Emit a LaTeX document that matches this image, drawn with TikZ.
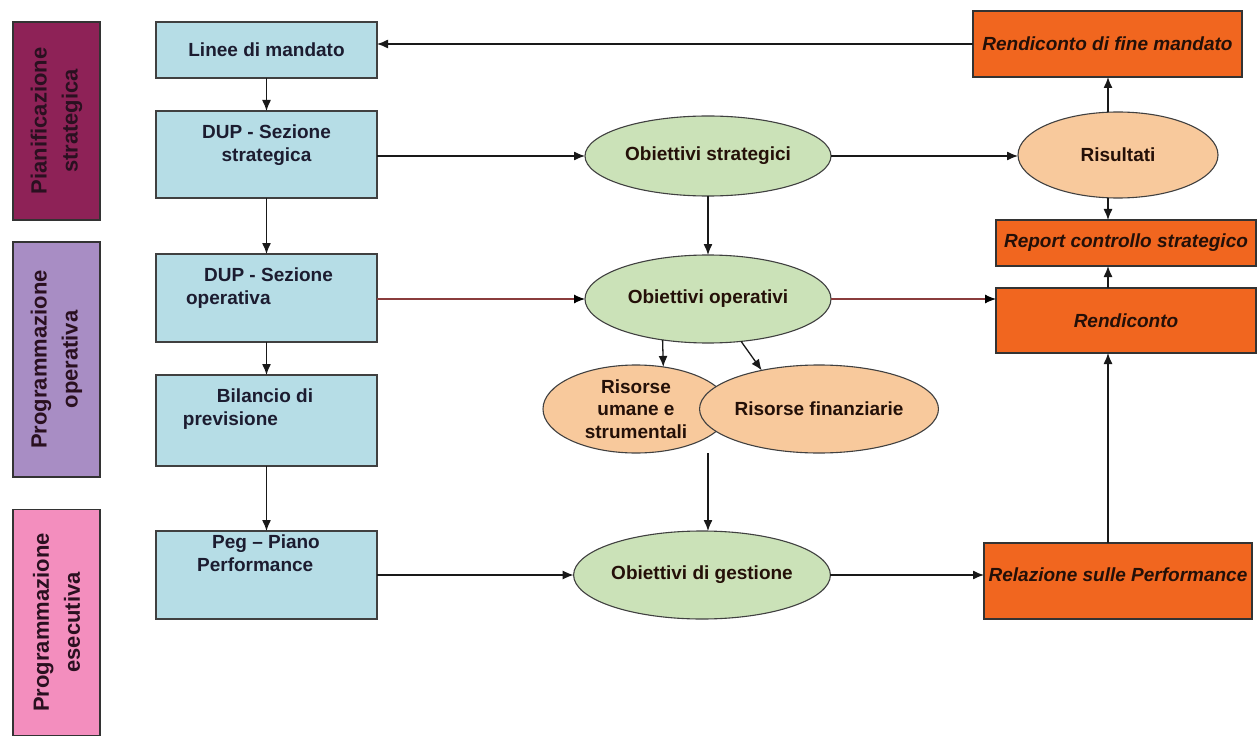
\documentclass[tikz,border=0pt]{standalone}
\usepackage{fontspec}
\setmainfont{Liberation Sans}
\usetikzlibrary{shapes.geometric,arrows.meta}
\definecolor{magF}{HTML}{8E2257}
\definecolor{purF}{HTML}{A88DC4}
\definecolor{pinF}{HTML}{F38EBE}
\definecolor{labT}{HTML}{2A1020}
\definecolor{blueF}{HTML}{B6DDE6}
\definecolor{blueT}{HTML}{1C1C30}
\definecolor{greenF}{HTML}{CBE2B8}
\definecolor{peachF}{HTML}{F8C99C}
\definecolor{orangeF}{HTML}{F1661F}
\definecolor{darkT}{HTML}{241008}
\definecolor{redL}{HTML}{8A3C3C}
\tikzset{
  lab/.style={draw=black!80, line width=1.2pt, fill=#1, rotate=90, minimum height=87pt,
    inner sep=0pt, outer sep=0pt, align=center, text=labT,
    font=\fontsize{22}{31}\selectfont\bfseries},
  bbox/.style={draw=black!75, line width=1.2pt, fill=blueF, minimum width=221pt,
    inner sep=0pt, outer sep=0pt},
  btext/.style={align=#1, text=blueT, inner sep=0pt, font=\fontsize{19}{23.5}\selectfont\bfseries},
  ell/.style={ellipse, draw=black!75, line width=1.1pt, fill=#1, inner sep=0pt, outer sep=0pt,
    align=center, text=darkT, font=\fontsize{19}{22.5}\selectfont\bfseries},
  obox/.style={draw=black!80, line width=1.2pt, fill=orangeF, inner sep=0pt, outer sep=0pt,
    text=darkT, font=\fontsize{19}{23}\selectfont\bfseries\itshape},
  otext/.style={inner sep=0pt, text=darkT, font=\fontsize{19}{23}\selectfont\bfseries\itshape},
  arr/.style={draw=black!90, line width=1.3pt, -{Latex[length=11pt,width=9pt]}},
  rarr/.style={draw=redL, line width=1.1pt, -{Latex[length=11pt,width=9pt,fill=black,color=black]}},
}
\begin{document}
\begin{tikzpicture}[x=1pt,y=-1pt]
\useasboundingbox[fill=white] (0,0) rectangle (1258,738);

% left phase labels
\node[lab=magF, minimum width=198pt] (ps) at (56.5,121) {Pianificazione\\strategica};
\node[lab=purF, minimum width=235pt] (po) at (56.5,359.5) {Programmazione\\operativa};
\node[lab=pinF, minimum width=226pt] (pe) at (56.5,622.5) {Programmazione\\esecutiva};

% blue boxes
\node[bbox, minimum height=56pt] (lin) at (266.5,50) {};
\node[btext=center] (lint) at (266.5,50) {Linee di mandato};
\node[bbox, minimum height=87pt] (dups) at (266.5,154.5) {};
\node[btext=center] (dupst) at (266.5,145) {DUP - Sezione\\strategica};
\node[bbox, minimum height=88pt] (dupo) at (266.5,298) {};
\node[btext=left] (dupot) at (259.5,288) {\hspace*{18pt}DUP - Sezione\\operativa};
\node[bbox, minimum height=91pt] (bil) at (266.5,420.5) {};
\node[btext=left] (bilt) at (248,409) {\hspace*{34pt}Bilancio di\\previsione};
\node[bbox, minimum height=88pt] (peg) at (266.5,575) {};
\node[btext=left] (pegt) at (258.5,553) {\hspace*{15pt}Peg -- Piano\\Performance};

% ellipses
\node[ell=greenF, minimum width=246pt, minimum height=80pt] (os) at (708,156) {Obiettivi strategici};
\node[ell=greenF, minimum width=246pt, minimum height=88pt] (oo) at (708,299) {Obiettivi operativi};
\node[ell=peachF, minimum width=186pt, minimum height=88pt] (ru) at (636,409) {Risorse\\umane e\\strumentali};
\node[ell=peachF, minimum width=202pt, minimum height=88pt] (rf) at (819,409) {Risorse finanziarie};
\node[ell=greenF, minimum width=254pt, minimum height=88pt] (og) at (702,575) {Obiettivi di gestione};
\node[ell=peachF, minimum width=200pt, minimum height=86pt] (ris) at (1118,155) {Risultati};

% orange boxes
\node[obox, minimum width=269pt, minimum height=66pt] (rfm) at (1107.5,44) {Rendiconto di fine mandato};
\node[obox, minimum width=260pt, minimum height=46pt] (rcs) at (1126,243) {Report controllo strategico};
\node[obox, minimum width=260pt, minimum height=65pt] (ren) at (1126,320.5) {Rendiconto};
\node[obox, minimum width=268pt, minimum height=76pt] (rel) at (1118,581) {};
\node[otext] (relt) at (1118,575) {Relazione sulle Performance};

% helper coordinates
\coordinate (rx) at (1108,0);
\coordinate (rb) at (708,453);

% connectors
\draw[arr] (rfm.west) -- (rfm.west -| lin.east);
\draw[arr] (lin.south) -- (dups.north);
\draw[arr] (dups.south) -- (dupo.north);
\draw[arr] (dupo.south) -- (bil.north);
\draw[arr] (bil.south) -- (peg.north);
\draw[arr] (os.west -| dups.east) -- (os.west);
\draw[arr] (os.east) -- (os.east -| ris.west);
\draw[arr] (os.south) -- (oo.north);
\draw[rarr] (oo.west -| dupo.east) -- (oo.west);
\draw[rarr] (oo.east) -- (oo.east -| ren.west);
\draw[arr] (oo.222) -- (ru.57);
\draw[arr] (oo.308) -- (rf.146);
\draw[arr] (rb) -- (rb |- og.north);
\draw[arr] (og.west -| peg.east) -- (og.west);
\draw[arr] (og.east) -- (og.east -| rel.west);
\draw[arr] (rel.north -| rx) -- (ren.south -| rx);
\draw[arr] (ren.north -| rx) -- (rcs.south -| rx);
\draw[arr] (ris.south -| rx) -- (rcs.north -| rx);
\draw[arr] (ris.north -| rx) -- (rfm.south -| rx);
\end{tikzpicture}
\end{document}
